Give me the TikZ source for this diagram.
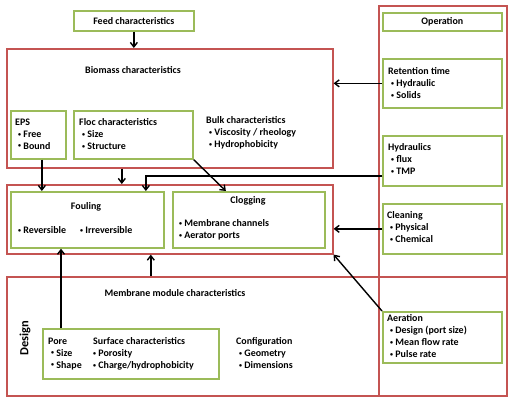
\documentclass[tikz,border=0pt]{standalone}
\usepackage{fontspec}
\setmainfont{Carlito}
\usetikzlibrary{arrows.meta}
\definecolor{rbox}{RGB}{196,84,82}
\definecolor{gbox}{RGB}{155,187,89}
\newcommand\bulz{\raisebox{0.12em}{\scalebox{0.6}{\textbullet}}\ }
\newcommand\bul{\hspace*{3bp}\bulz}
\begin{document}
\begin{tikzpicture}[x=1bp,y=-1bp,
  redbox/.style={draw=rbox, line width=1.6bp, inner sep=0, anchor=north west},
  grnbox/.style={draw=gbox, line width=1.7bp, inner sep=0, anchor=north west},
  txt/.style={inner sep=0, font=\fontsize{10}{12}\selectfont\bfseries, align=left, anchor=north west},
  ctxt/.style={inner sep=0, font=\fontsize{10}{12}\selectfont\bfseries, anchor=center},
  arr/.style={-{Straight Barb[length=4.5bp,width=7bp]}, line width=1.4bp}]
\useasboundingbox (0,0) rectangle (516,403);
% boxes
\node[grnbox, minimum width=120bp, minimum height=20bp] (feed) at (73,10) {};
\node[redbox, minimum width=326bp, minimum height=119bp] (bio) at (6,48) {};
\node[grnbox, minimum width=55bp, minimum height=48bp] (eps) at (10,110) {};
\node[grnbox, minimum width=119bp, minimum height=48bp] (floc) at (73,110) {};
\node[redbox, minimum width=128bp, minimum height=390bp] (op) at (378,5) {};
\node[grnbox, minimum width=119bp, minimum height=18bp] (opn) at (382,12) {};
\node[grnbox, minimum width=119bp, minimum height=49bp] (ret) at (382,58) {};
\node[grnbox, minimum width=119bp, minimum height=50bp] (hyd) at (382,135) {};
\node[grnbox, minimum width=119bp, minimum height=50bp] (clean) at (382,203) {};
\node[redbox, minimum width=326bp, minimum height=69bp] (ff) at (6,184) {};
\node[grnbox, minimum width=153bp, minimum height=56bp] (foul) at (10,191) {};
\node[grnbox, minimum width=152bp, minimum height=56bp] (clog) at (172,191) {};
\node[redbox, minimum width=500bp, minimum height=119bp] (mem) at (6,276) {};
\node[grnbox, minimum width=176bp, minimum height=50bp] (pore) at (42,328) {};
\node[grnbox, minimum width=119bp, minimum height=51bp] (aer) at (382,311) {};
% texts
\node[ctxt] (tfeed) at (feed.center) {Feed characteristics};
\node[ctxt] (tbio) at (133,70) {Biomass characteristics};
\node[txt] (teps) at (15,118.5) {EPS\\ \bul Free\\ \bul Bound};
\node[txt] (tfloc) at (79,118.5) {Floc characteristics\\ \bul Size\\ \bul Structure};
\node[txt] (tbulk) at (206,116.5) {Bulk characteristics\\ \bul Viscosity / rheology\\ \bul Hydrophobicity};
\node[ctxt] (top) at (opn.center) {Operation};
\node[txt] (tret) at (388,67.5) {Retention time\\ \bul Hydraulic\\ \bul Solids};
\node[txt] (thyd) at (388,143.5) {Hydraulics\\ \bul flux\\ \bul TMP};
\node[txt] (tclean) at (387,211.5) {Cleaning\\ \bul Physical\\ \bul Chemical};
\node[ctxt] (tfoul) at (86,207) {Fouling};
\node[txt, anchor=mid west] (trev) at (18,231) {\bulz Reversible};
\node[txt, anchor=mid west] (tirr) at (80,231) {\bulz Irreversible};
\node[ctxt] (tclog) at (248,201) {Clogging};
\node[txt] (tclogl) at (179,219.5) {\bulz Membrane channels\\ \bulz Aerator ports};
\node[ctxt] (tmem) at (175,293) {Membrane module characteristics};
\node[inner sep=0, rotate=90, font=\fontsize{12.5}{14}\selectfont\bfseries] (tdesign) at (25,338) {Design};
\node[txt] (tpore) at (48,337.5) {Pore\\ \bul Size\\ \bul Shape};
\node[txt] (tsurf) at (93,337.5) {Surface characteristics\\ \bulz Porosity\\ \bulz Charge/hydrophobicity};
\node[txt] (tconf) at (236,337.5) {Configuration\\ \bul Geometry\\ \bul Dimensions};
\node[txt] (taer) at (387,314.5) {Aeration\\ \bul Design (port size)\\ \bul Mean flow rate\\ \bul Pulse rate};
% connectors
\draw[arr] (feed.south) -- (feed.south |- bio.north);
\draw[arr] (ret.west) -- (ret.west -| bio.east);
\draw[arr] ([xshift=3.5bp]eps.south) -- ([xshift=3.5bp]eps.south |- foul.north);
\draw[arr] ([xshift=-48bp]bio.south) -- ([xshift=-48bp]bio.south |- ff.north);
\draw[arr] ([yshift=-15bp]hyd.west) -| ([xshift=58.5bp]foul.north);
\draw[arr] (floc.south east) -- ([xshift=-23bp]clog.north);
\draw[arr] (clean.west) -- (clean.west -| ff.east);
\draw[arr] (aer.north west) -- (ff.south east);
\draw[arr] ([xshift=-19bp]ff.south |- mem.north) -- ([xshift=-19bp]ff.south);
\draw[arr] ([xshift=19bp]pore.north west) -- ([xshift=19bp]pore.north west |- foul.south);
\end{tikzpicture}
\end{document}
